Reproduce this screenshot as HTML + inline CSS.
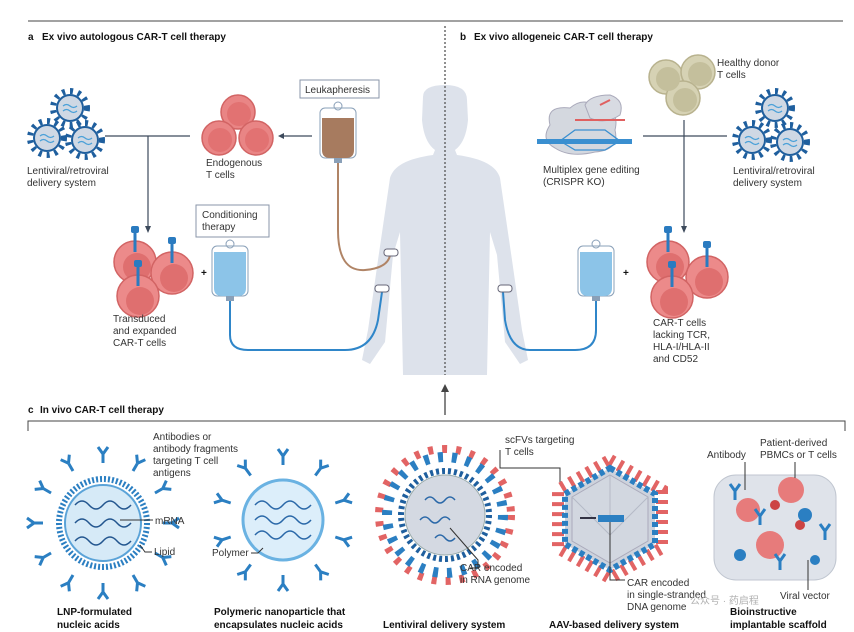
<!DOCTYPE html>
<html><head><meta charset="utf-8"><style>
html,body{margin:0;padding:0;background:#fff}
svg{display:block}
text{font-family:"Liberation Sans","Noto Sans CJK SC",sans-serif;font-size:10px;fill:#333}
.b{font-weight:bold;fill:#111}
</style></head><body>
<svg width="854" height="632" viewBox="0 0 854 632" xmlns="http://www.w3.org/2000/svg">
<defs>
<g id="vir">
<circle r="17" fill="none" stroke="#1f5f9e" stroke-width="6" stroke-dasharray="3 5"/>
<circle r="13" fill="#cfd8e4" stroke="#1f5f9e" stroke-width="2"/>
<path d="M-7,-2 q3.5,-3 7,0 t7,0 M-7,3 q3.5,-3 7,0 t7,0" stroke="#4aa0d8" fill="none" stroke-width="1.2"/>
</g>
<g id="tc"><circle r="17" fill="#e98585" stroke="#d26464" stroke-width="1.5"/><circle cx="1" cy="2" r="12" fill="#e27272"/></g>
<g id="car"><circle r="21" fill="#ec8a8a" stroke="#d26464" stroke-width="1.5"/><circle cx="2" cy="5" r="14" fill="#df6f6f"/><rect x="-1.5" y="-30" width="3" height="20" fill="#2a7bc0"/><rect x="-4" y="-36" width="8" height="7" rx="2" fill="#2a7bc0"/></g>
<g id="ab"><path d="M0,0 V-9 M0,-9 L-5,-16 M0,-9 L5,-16" stroke="#2b7fc2" stroke-width="3" fill="none"/></g>
<g id="bag"><rect x="0" y="6" width="36" height="50" rx="5" fill="#fff" stroke="#8aa0b8"/><circle cx="18" cy="4" r="4" fill="none" stroke="#8aa0b8"/><rect x="14" y="56" width="8" height="5" fill="#8aa0b8"/></g>
</defs>

<line x1="28" y1="21" x2="843" y2="21" stroke="#444" stroke-width="1"/>
<text x="28" y="40" class="b">a</text><text x="42" y="40" class="b" font-size="10">Ex vivo autologous CAR-T cell therapy</text>
<text x="460" y="40" class="b" font-size="12">b</text><text x="474" y="40" class="b">Ex vivo allogeneic CAR-T cell therapy</text>

<path d="M423,97 Q423,85 445,85 Q467,85 467,100 L468,120 Q466,142 455,150 L457,155 Q495,160 500,178 L512,260 L522,330 L528,360 L520,364 L505,342 L497,255 L490,232 L487,375 L403,375 L400,232 L393,255 L385,342 L370,364 L362,360 L368,330 L378,260 L390,178 Q395,160 433,155 L435,150 Q424,142 422,120 Z" fill="#dde2eb"/>
<line x1="445" y1="26" x2="445" y2="375" stroke="#555" stroke-width="1.3" stroke-dasharray="2 2"/>
<line x1="445" y1="415" x2="445" y2="388" stroke="#444" stroke-width="1.3"/>
<path d="M441,392 L445,384 L449,392 Z" fill="#444"/>

<use href="#vir" x="70" y="108"/><use href="#vir" x="47" y="138"/><use href="#vir" x="85" y="140"/>
<text x="27" y="174">Lentiviral/retroviral</text><text x="27" y="186">delivery system</text>
<path d="M105,136 H190 M148,136 V228" stroke="#3d4a5c" fill="none" stroke-width="1.2"/>
<path d="M145,226 L148,233 L151,226 Z" fill="#3d4a5c"/>
<use href="#tc" x="238" y="112"/><use href="#tc" x="219" y="138"/><use href="#tc" x="256" y="138"/>
<text x="206" y="166">Endogenous</text><text x="206" y="178">T cells</text>
<line x1="312" y1="136" x2="282" y2="136" stroke="#3d4a5c" stroke-width="1.2"/><path d="M284,133 L278,136 L284,139 Z" fill="#3d4a5c"/>
<rect x="300" y="80" width="79" height="18" fill="#fff" stroke="#8a96a8"/><text x="305" y="93">Leukapheresis</text>
<use href="#bag" x="320" y="102"/><path d="M322,118 H354 V150 Q354,158 346,158 H330 Q322,158 322,150 Z" fill="#a77b5f"/>
<path d="M338,163 V230 Q338,272 365,270 Q388,268 390,255" stroke="#b08466" stroke-width="2" fill="none"/>
<rect x="384" y="249" width="14" height="7" rx="3" fill="#fff" stroke="#667"/>
<rect x="196" y="205" width="73" height="32" fill="#fff" stroke="#8a96a8"/><text x="202" y="218">Conditioning</text><text x="202" y="230">therapy</text>
<use href="#bag" x="212" y="240"/><path d="M214,252 H246 V288 Q246,296 238,296 H222 Q214,296 214,288 Z" fill="#8cc4e8"/>
<path d="M230,301 V335 Q230,350 248,350 H345 Q372,350 378,320 L382,292" stroke="#2f86c9" stroke-width="2" fill="none"/>
<rect x="375" y="285" width="14" height="7" rx="3" fill="#fff" stroke="#667"/>
<use href="#car" x="135" y="262"/><use href="#car" x="172" y="273"/><use href="#car" x="138" y="296"/>
<text x="201" y="276" class="b" font-size="12">+</text>
<text x="113" y="322">Transduced</text><text x="113" y="334">and expanded</text><text x="113" y="346">CAR-T cells</text>

<g fill="#d6d2b4" stroke="#b8b28e" stroke-width="1.5">
<circle cx="666" cy="77" r="17"/><circle cx="698" cy="72" r="17"/><circle cx="683" cy="98" r="17"/></g>
<g fill="#c4bf9c"><circle cx="668" cy="79" r="12"/><circle cx="700" cy="74" r="12"/><circle cx="685" cy="100" r="12"/></g>
<text x="717" y="66">Healthy donor</text><text x="717" y="78">T cells</text>
<path d="M550,125 Q545,105 570,108 Q585,95 600,110 Q620,110 615,130 Q620,150 595,152 Q570,158 555,148 Q540,140 550,125 Z" fill="#d4d8df" stroke="#aab"/>
<path d="M585,105 Q590,95 610,95 Q625,100 620,115 Q605,125 590,118 Z" fill="#d8dbe2" stroke="#aab"/>
<rect x="537" y="139" width="95" height="5" fill="#3a8fd0"/><path d="M575,120 H625 M600,105 L610,100" stroke="#e06060" stroke-width="2" fill="none"/>
<path d="M560,141 L575,130 H605 L620,141 L605,150 H575 Z" fill="none" stroke="#3a8fd0" stroke-width="1.3"/>
<text x="543" y="173">Multiplex gene editing</text><text x="543" y="185">(CRISPR KO)</text>
<use href="#vir" x="775" y="108"/><use href="#vir" x="752" y="140"/><use href="#vir" x="790" y="142"/>
<text x="733" y="174">Lentiviral/retroviral</text><text x="733" y="186">delivery system</text>
<path d="M643,136 H727 M684,120 V228" stroke="#3d4a5c" fill="none" stroke-width="1.2"/>
<path d="M681,226 L684,233 L687,226 Z" fill="#3d4a5c"/>
<use href="#bag" x="578" y="240"/><path d="M580,252 H612 V288 Q612,296 604,296 H588 Q580,296 580,288 Z" fill="#8cc4e8"/>
<path d="M596,301 V330 Q596,350 575,350 H530 Q510,350 505,320 L503,292" stroke="#2f86c9" stroke-width="2" fill="none"/>
<rect x="498" y="285" width="14" height="7" rx="3" fill="#fff" stroke="#667"/>
<text x="623" y="276" class="b" font-size="12">+</text>
<use href="#car" x="668" y="262"/><use href="#car" x="707" y="277"/><use href="#car" x="672" y="297"/>
<text x="653" y="326">CAR-T cells</text><text x="653" y="338">lacking TCR,</text><text x="653" y="350">HLA-I/HLA-II</text><text x="653" y="362">and CD52</text>

<text x="28" y="413" class="b">c</text><text x="40" y="413" class="b">In vivo CAR-T cell therapy</text>
<path d="M28,431 V421 H845 V431" stroke="#444" fill="none"/>
<g>
<circle cx="103" cy="523" r="44" fill="none" stroke="#2b7fc2" stroke-width="6" stroke-dasharray="2 2"/>
<circle cx="103" cy="523" r="38" fill="#d6eaf7" stroke="#5aa3d8" stroke-width="2"/>
<path d="M75,505 q7,-8 14,0 t14,0 t14,0 t14,0 M75,523 q7,-8 14,0 t14,0 t14,0 t14,0 M75,541 q7,-8 14,0 t14,0 t14,0 t14,0" stroke="#23568f" stroke-width="1.5" fill="none"/>
<g transform="translate(103 523)">
<use href="#ab" transform="rotate(0) translate(0 -60)"/><use href="#ab" transform="rotate(30) translate(0 -60)"/><use href="#ab" transform="rotate(60) translate(0 -60)"/><use href="#ab" transform="rotate(90) translate(0 -60)"/><use href="#ab" transform="rotate(120) translate(0 -60)"/><use href="#ab" transform="rotate(150) translate(0 -60)"/><use href="#ab" transform="rotate(180) translate(0 -60)"/><use href="#ab" transform="rotate(210) translate(0 -60)"/><use href="#ab" transform="rotate(240) translate(0 -60)"/><use href="#ab" transform="rotate(270) translate(0 -60)"/><use href="#ab" transform="rotate(300) translate(0 -60)"/><use href="#ab" transform="rotate(330) translate(0 -60)"/>
</g></g>
<text x="153" y="440">Antibodies or</text><text x="153" y="452">antibody fragments</text><text x="153" y="464">targeting T cell</text><text x="153" y="476">antigens</text>
<path d="M120,520 H153" stroke="#333"/><text x="155" y="524">mRNA</text>
<path d="M140,545 L145,552 H152" stroke="#333" fill="none"/><text x="154" y="555">Lipid</text>
<text x="57" y="615" class="b">LNP-formulated</text><text x="57" y="628" class="b">nucleic acids</text>
<circle cx="283" cy="520" r="40" fill="#dceefa" stroke="#6ab2e2" stroke-width="3"/>
<path d="M255,505 q7,-8 14,0 t14,0 t14,0 t14,0 M255,520 q7,-8 14,0 t14,0 t14,0 t14,0 M255,535 q7,-8 14,0 t14,0 t14,0 t14,0" stroke="#2a68a8" stroke-width="1.5" fill="none"/>
<g transform="translate(283 520)">
<use href="#ab" transform="rotate(0) translate(0 -55)"/><use href="#ab" transform="rotate(36) translate(0 -55)"/><use href="#ab" transform="rotate(72) translate(0 -55)"/><use href="#ab" transform="rotate(108) translate(0 -55)"/><use href="#ab" transform="rotate(144) translate(0 -55)"/><use href="#ab" transform="rotate(180) translate(0 -55)"/><use href="#ab" transform="rotate(216) translate(0 -55)"/><use href="#ab" transform="rotate(252) translate(0 -55)"/><use href="#ab" transform="rotate(288) translate(0 -55)"/><use href="#ab" transform="rotate(324) translate(0 -55)"/>
</g>
<text x="212" y="556">Polymer</text><path d="M251,553 H258 L263,548" stroke="#333" fill="none"/>
<text x="214" y="615" class="b">Polymeric nanoparticle that</text><text x="214" y="628" class="b">encapsulates nucleic acids</text>
<circle cx="445" cy="515" r="66" fill="none" stroke="#e26464" stroke-width="8" stroke-dasharray="5 9"/>
<circle cx="445" cy="515" r="58" fill="none" stroke="#2b7fc2" stroke-width="10" stroke-dasharray="5 9"/>
<circle cx="445" cy="515" r="44" fill="none" stroke="#1f5f9e" stroke-width="6" stroke-dasharray="3 3"/>
<circle cx="445" cy="515" r="40" fill="#d4d9e2" stroke="#9aa"/>
<path d="M425,500 q5,-6 10,0 t10,0 t10,0 M420,520 q5,-6 10,0 t10,0 t10,0 M435,538 q5,-6 10,0 t10,0" stroke="#2a68a8" stroke-width="1.5" fill="none"/>
<path d="M450,528 L478,560 V568 H470" stroke="#333" fill="none"/>
<text x="460" y="571">CAR encoded</text><text x="460" y="583">in RNA genome</text>
<path d="M500,450 V468 H560 V485" stroke="#333" fill="none"/>
<text x="505" y="443">scFVs targeting</text><text x="505" y="455">T cells</text>
<text x="383" y="628" class="b">Lentiviral delivery system</text>
<polygon points="610,460 662,490 662,548 610,578 558,548 558,490" fill="none" stroke="#e26464" stroke-width="12" stroke-dasharray="4 6"/>
<polygon points="610,468 655,494 655,544 610,570 565,544 565,494" fill="#cdd2dc" stroke="#2b7fc2" stroke-width="6" stroke-dasharray="5 3"/>
<polygon points="610,475 648,497 648,541 610,563 572,541 572,497" fill="#d2d7e0" stroke="#aab"/>
<path d="M572,497 L610,535 L648,497 M610,475 L610,535" stroke="#b5bac6" fill="none"/>
<rect x="598" y="515" width="26" height="7" fill="#2b7fc2"/><path d="M580,518 H596" stroke="#334" stroke-width="2"/>
<path d="M610,522 V580 H625" stroke="#333" fill="none"/>
<text x="627" y="586">CAR encoded</text><text x="627" y="598">in single-stranded</text><text x="627" y="610">DNA genome</text>
<text x="549" y="628" class="b">AAV-based delivery system</text>
<rect x="714" y="475" width="122" height="105" rx="22" fill="#dfe3ea" stroke="#c0c6d0"/>
<circle cx="748" cy="510" r="12" fill="#e77b7b"/><circle cx="791" cy="490" r="13" fill="#e77b7b"/><circle cx="770" cy="545" r="14" fill="#e77b7b"/><circle cx="800" cy="525" r="5" fill="#c44"/><circle cx="775" cy="505" r="5" fill="#c44"/>
<circle cx="805" cy="515" r="7" fill="#2b7fc2"/><circle cx="740" cy="555" r="6" fill="#2b7fc2"/><circle cx="815" cy="560" r="5" fill="#2b7fc2"/>
<use href="#ab" x="735" y="500"/><use href="#ab" x="760" y="525"/><use href="#ab" x="825" y="540"/><use href="#ab" x="780" y="570"/>
<path d="M745,462 V490 M795,462 V478 M808,560 V590" stroke="#333" fill="none"/>
<text x="707" y="458">Antibody</text><text x="760" y="446">Patient-derived</text><text x="760" y="458">PBMCs or T cells</text>
<text x="780" y="599">Viral vector</text>
<text x="730" y="615" class="b">Bioinstructive</text><text x="730" y="628" class="b">implantable scaffold</text>
<text x="690" y="604" font-size="13" style="fill:#b0b0b0">公众号 · 药启程</text>
</svg>
</body></html>
